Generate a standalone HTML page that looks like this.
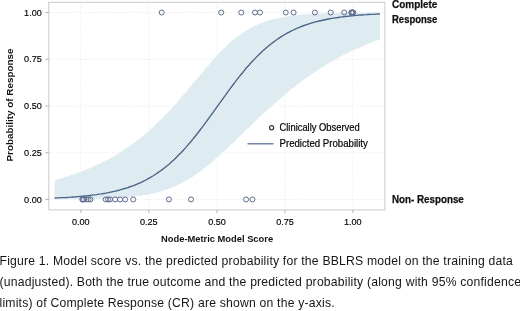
<!DOCTYPE html>
<html><head><meta charset="utf-8"><title>Figure 1</title>
<style>
html,body{margin:0;padding:0;background:#fff;}
body{width:520px;height:311px;overflow:hidden;position:relative;font-family:"Liberation Sans",sans-serif;}
svg{position:absolute;left:0;top:0;}
.cap{position:absolute;left:-0.5px;top:251.1px;width:540px;font-size:12.2px;line-height:20.95px;color:#161616;white-space:nowrap;letter-spacing:0.199px;}
.cap div{height:20.95px;}
</style></head><body>
<svg width="520" height="250" viewBox="0 0 520 250">
<defs>
<pattern id="hatch" width="2" height="2" patternUnits="userSpaceOnUse">
<rect width="2" height="2" fill="#e7f1f5"/><rect width="1" height="1" fill="#d5e6ec"/><rect x="1" y="1" width="1" height="1" fill="#d5e6ec"/>
</pattern>
</defs>
<rect x="48.8" y="2.3" width="336.1" height="207.6" fill="#fff" stroke="none"/>
<g stroke="#f0f0f0" stroke-width="1" stroke-dasharray="2,1.5" fill="none"><line x1="80.8" y1="2.5" x2="80.8" y2="210"/><line x1="148.8" y1="2.5" x2="148.8" y2="210"/><line x1="217" y1="2.5" x2="217" y2="210"/><line x1="285" y1="2.5" x2="285" y2="210"/><line x1="352.8" y1="2.5" x2="352.8" y2="210"/><line x1="48.8" y1="12.5" x2="384.9" y2="12.5"/><line x1="48.8" y1="59.25" x2="384.9" y2="59.25"/><line x1="48.8" y1="106" x2="384.9" y2="106"/><line x1="48.8" y1="152.7" x2="384.9" y2="152.7"/><line x1="48.8" y1="199.45" x2="384.9" y2="199.45"/></g>
<polygon points="54.6,180.2 56.9,179.5 59.2,178.9 61.6,178.2 63.9,177.5 66.3,176.8 68.6,176.0 70.9,175.3 73.3,174.5 75.6,173.6 78.0,172.8 80.3,171.9 82.6,171.0 85.0,170.1 87.3,169.2 89.7,168.2 92.0,167.2 94.4,166.1 96.7,165.0 99.0,163.9 101.4,162.8 103.7,161.6 106.1,160.4 108.4,159.2 110.7,157.9 113.1,156.5 115.4,155.2 117.8,153.8 120.1,152.3 122.5,150.8 124.8,149.3 127.1,147.7 129.5,146.1 131.8,144.4 134.2,142.7 136.5,141.0 138.8,139.1 141.2,137.3 143.5,135.4 145.9,133.4 148.2,131.4 150.5,129.3 152.9,127.2 155.2,125.0 157.6,122.8 159.9,120.5 162.3,118.2 164.6,115.8 166.9,113.4 169.3,110.9 171.6,108.4 174.0,105.8 176.3,103.2 178.6,100.5 181.0,97.8 183.3,95.1 185.7,92.3 188.0,89.6 190.4,86.8 192.7,83.9 195.0,81.1 197.4,78.3 199.7,75.5 202.1,72.7 204.4,69.9 206.7,67.1 209.1,64.4 211.4,61.7 213.8,59.1 216.1,56.5 218.4,54.0 220.8,51.5 223.1,49.2 225.5,46.9 227.8,44.7 230.2,42.6 232.5,40.5 234.8,38.6 237.2,36.7 239.5,35.0 241.9,33.3 244.2,31.8 246.5,30.3 248.9,28.9 251.2,27.6 253.6,26.4 255.9,25.3 258.2,24.2 260.6,23.3 262.9,22.4 265.3,21.5 267.6,20.7 270.0,20.0 272.3,19.4 274.6,18.8 277.0,18.2 279.3,17.7 281.7,17.2 284.0,16.8 286.3,16.4 288.7,16.0 291.0,15.7 293.4,15.4 295.7,15.1 298.1,14.9 300.4,14.7 302.7,14.5 305.1,14.3 307.4,14.1 309.8,14.0 312.1,13.8 314.4,13.7 316.8,13.6 319.1,13.5 321.5,13.4 323.8,13.3 326.1,13.2 328.5,13.1 330.8,13.1 333.2,13.0 335.5,13.0 337.9,12.9 340.2,12.9 342.5,12.9 344.9,12.8 347.2,12.8 349.6,12.8 351.9,12.7 354.2,12.7 356.6,12.7 358.9,12.7 361.3,12.7 363.6,12.6 366.0,12.6 368.3,12.6 370.6,12.6 373.0,12.6 375.3,12.6 377.7,12.6 380.0,12.6 380.0,39.4 377.7,40.2 375.3,41.1 373.0,42.0 370.6,42.9 368.3,43.8 366.0,44.7 363.6,45.7 361.3,46.7 358.9,47.7 356.6,48.7 354.2,49.8 351.9,50.9 349.6,52.0 347.2,53.2 344.9,54.3 342.5,55.5 340.2,56.8 337.9,58.0 335.5,59.3 333.2,60.7 330.8,62.0 328.5,63.4 326.1,64.8 323.8,66.2 321.5,67.7 319.1,69.2 316.8,70.7 314.4,72.3 312.1,73.9 309.8,75.5 307.4,77.2 305.1,78.9 302.7,80.6 300.4,82.3 298.1,84.1 295.7,85.9 293.4,87.8 291.0,89.6 288.7,91.5 286.3,93.4 284.0,95.4 281.7,97.4 279.3,99.4 277.0,101.4 274.6,103.5 272.3,105.6 270.0,107.7 267.6,109.8 265.3,111.9 262.9,114.1 260.6,116.3 258.2,118.5 255.9,120.7 253.6,122.9 251.2,125.2 248.9,127.4 246.5,129.7 244.2,132.0 241.9,134.2 239.5,136.5 237.2,138.8 234.8,141.0 232.5,143.3 230.2,145.5 227.8,147.7 225.5,149.9 223.1,152.1 220.8,154.3 218.4,156.4 216.1,158.5 213.8,160.5 211.4,162.5 209.1,164.5 206.7,166.4 204.4,168.3 202.1,170.1 199.7,171.8 197.4,173.5 195.0,175.1 192.7,176.7 190.4,178.2 188.0,179.6 185.7,181.0 183.3,182.3 181.0,183.5 178.6,184.6 176.3,185.7 174.0,186.8 171.6,187.7 169.3,188.7 166.9,189.5 164.6,190.3 162.3,191.0 159.9,191.7 157.6,192.4 155.2,193.0 152.9,193.5 150.5,194.0 148.2,194.5 145.9,194.9 143.5,195.3 141.2,195.7 138.8,196.0 136.5,196.3 134.2,196.6 131.8,196.9 129.5,197.1 127.1,197.3 124.8,197.5 122.5,197.7 120.1,197.9 117.8,198.0 115.4,198.1 113.1,198.3 110.7,198.4 108.4,198.5 106.1,198.6 103.7,198.7 101.4,198.7 99.0,198.8 96.7,198.9 94.4,198.9 92.0,199.0 89.7,199.0 87.3,199.1 85.0,199.1 82.6,199.1 80.3,199.2 78.0,199.2 75.6,199.2 73.3,199.2 70.9,199.3 68.6,199.3 66.3,199.3 63.9,199.3 61.6,199.3 59.2,199.3 56.9,199.3 54.6,199.4" fill="url(#hatch)" stroke="none"/>
<rect x="48.8" y="2.3" width="336.1" height="207.6" fill="none" stroke="#cacaca" stroke-width="1"/>
<g stroke="#b5b5b5" stroke-width="1"><line x1="80.8" y1="210" x2="80.8" y2="213"/><line x1="148.8" y1="210" x2="148.8" y2="213"/><line x1="217" y1="210" x2="217" y2="213"/><line x1="285" y1="210" x2="285" y2="213"/><line x1="352.8" y1="210" x2="352.8" y2="213"/><line x1="45.3" y1="12.5" x2="48.8" y2="12.5"/><line x1="45.3" y1="59.25" x2="48.8" y2="59.25"/><line x1="45.3" y1="106" x2="48.8" y2="106"/><line x1="45.3" y1="152.7" x2="48.8" y2="152.7"/><line x1="45.3" y1="199.45" x2="48.8" y2="199.45"/></g>
<polyline points="54.6,198.0 56.9,197.9 59.2,197.8 61.6,197.7 63.9,197.6 66.3,197.5 68.6,197.3 70.9,197.2 73.3,197.0 75.6,196.8 78.0,196.6 80.3,196.4 82.6,196.2 85.0,196.0 87.3,195.8 89.7,195.5 92.0,195.2 94.4,194.9 96.7,194.6 99.0,194.2 101.4,193.9 103.7,193.5 106.1,193.1 108.4,192.6 110.7,192.1 113.1,191.6 115.4,191.1 117.8,190.5 120.1,189.9 122.5,189.2 124.8,188.5 127.1,187.8 129.5,187.0 131.8,186.2 134.2,185.3 136.5,184.3 138.8,183.3 141.2,182.3 143.5,181.1 145.9,180.0 148.2,178.7 150.5,177.4 152.9,176.0 155.2,174.5 157.6,172.9 159.9,171.3 162.3,169.6 164.6,167.8 166.9,165.9 169.3,163.9 171.6,161.8 174.0,159.7 176.3,157.4 178.6,155.1 181.0,152.7 183.3,150.2 185.7,147.6 188.0,144.9 190.4,142.2 192.7,139.4 195.0,136.5 197.4,133.5 199.7,130.5 202.1,127.4 204.4,124.3 206.7,121.1 209.1,117.9 211.4,114.6 213.8,111.4 216.1,108.1 218.4,104.8 220.8,101.6 223.1,98.3 225.5,95.1 227.8,91.8 230.2,88.6 232.5,85.5 234.8,82.4 237.2,79.4 239.5,76.4 241.9,73.5 244.2,70.6 246.5,67.8 248.9,65.2 251.2,62.5 253.6,60.0 255.9,57.6 258.2,55.2 260.6,52.9 262.9,50.8 265.3,48.7 267.6,46.7 270.0,44.8 272.3,42.9 274.6,41.2 277.0,39.5 279.3,37.9 281.7,36.4 284.0,35.0 286.3,33.7 288.7,32.4 291.0,31.2 293.4,30.0 295.7,28.9 298.1,27.9 300.4,26.9 302.7,26.0 305.1,25.2 307.4,24.4 309.8,23.6 312.1,22.9 314.4,22.2 316.8,21.6 319.1,21.0 321.5,20.5 323.8,20.0 326.1,19.5 328.5,19.0 330.8,18.6 333.2,18.2 335.5,17.8 337.9,17.5 340.2,17.1 342.5,16.8 344.9,16.5 347.2,16.3 349.6,16.0 351.9,15.8 354.2,15.6 356.6,15.4 358.9,15.2 361.3,15.0 363.6,14.8 366.0,14.7 368.3,14.5 370.6,14.4 373.0,14.3 375.3,14.1 377.7,14.0 380.0,13.9" fill="none" stroke="#4a6485" stroke-width="1.35" stroke-linejoin="round"/>
<g fill="none" stroke="#5d6b90" stroke-width="1"><circle cx="82.3" cy="199.45" r="2.5"/><circle cx="83" cy="199.45" r="2.5"/><circle cx="84" cy="199.45" r="2.5"/><circle cx="86.5" cy="199.45" r="2.5"/><circle cx="88.5" cy="199.45" r="2.5"/><circle cx="90.5" cy="199.45" r="2.5"/><circle cx="105.7" cy="199.45" r="2.5"/><circle cx="108" cy="199.45" r="2.5"/><circle cx="110" cy="199.45" r="2.5"/><circle cx="115.1" cy="199.45" r="2.5"/><circle cx="120.1" cy="199.45" r="2.5"/><circle cx="125.1" cy="199.45" r="2.5"/><circle cx="133.2" cy="199.45" r="2.5"/><circle cx="168.9" cy="199.45" r="2.5"/><circle cx="191" cy="199.45" r="2.5"/><circle cx="246.1" cy="199.45" r="2.5"/><circle cx="252.4" cy="199.45" r="2.5"/><circle cx="161.7" cy="12.5" r="2.5"/><circle cx="221.25" cy="12.5" r="2.5"/><circle cx="241.25" cy="12.5" r="2.5"/><circle cx="255" cy="12.5" r="2.5"/><circle cx="260" cy="12.5" r="2.5"/><circle cx="285.75" cy="12.5" r="2.5"/><circle cx="293.6" cy="12.5" r="2.5"/><circle cx="314.9" cy="12.5" r="2.5"/><circle cx="330.7" cy="12.5" r="2.5"/><circle cx="344.2" cy="12.5" r="2.5"/><circle cx="351.3" cy="12.5" r="2.5"/><circle cx="352" cy="12.5" r="2.5"/><circle cx="352.6" cy="12.5" r="2.5"/><circle cx="353.2" cy="12.5" r="2.5"/></g>
<g font-family="Liberation Sans, sans-serif" font-size="9.1" fill="#000" stroke="#000" stroke-width="0.15"><text x="41.8" y="15.60" text-anchor="end">1.00</text><text x="41.8" y="62.35" text-anchor="end">0.75</text><text x="41.8" y="109.10" text-anchor="end">0.50</text><text x="41.8" y="155.80" text-anchor="end">0.25</text><text x="41.8" y="202.55" text-anchor="end">0.00</text><text x="80.8" y="225.3" text-anchor="middle">0.00</text><text x="148.8" y="225.3" text-anchor="middle">0.25</text><text x="217" y="225.3" text-anchor="middle">0.50</text><text x="285" y="225.3" text-anchor="middle">0.75</text><text x="352.8" y="225.3" text-anchor="middle">1.00</text></g>
<text x="217.1" y="241.8" text-anchor="middle" font-family="Liberation Sans, sans-serif" font-size="9.33" font-weight="bold" fill="#111">Node-Metric Model Score</text>
<text transform="translate(12.9,105) rotate(-90)" text-anchor="middle" font-family="Liberation Sans, sans-serif" font-size="9.9" font-weight="bold" fill="#111">Probability of Response</text>
<circle cx="271.6" cy="127.7" r="2.05" fill="none" stroke="#333a4e" stroke-width="1.25"/>
<line x1="247.5" y1="143.8" x2="273.5" y2="143.8" stroke="#4c6a8c" stroke-width="1.2"/>
<g font-family="Liberation Sans, sans-serif" font-size="10.5" fill="#000" stroke="#000" stroke-width="0.2">
<text x="279.5" y="130.8" textLength="80.2" lengthAdjust="spacingAndGlyphs">Clinically Observed</text>
<text x="279.5" y="147" textLength="88.3" lengthAdjust="spacingAndGlyphs">Predicted Probability</text>
</g>
<g font-family="Liberation Sans, sans-serif" font-size="10.5" font-weight="bold" fill="#111" stroke="#111" stroke-width="0.25">
<text x="392" y="7.8" textLength="45.4" lengthAdjust="spacingAndGlyphs">Complete</text>
<text x="392" y="22.6" textLength="45.4" lengthAdjust="spacingAndGlyphs">Response</text>
<text x="392" y="203.3" textLength="71.8" lengthAdjust="spacingAndGlyphs">Non- Response</text>
</g>
</svg>
<div class="cap">
<div>Figure 1. Model score vs. the predicted probability for the BBLRS model on the training data</div>
<div>(unadjusted). Both the true outcome and the predicted probability (along with 95% confidence</div>
<div>limits) of Complete Response (CR) are shown on the y-axis.</div>
</div>
</body></html>
